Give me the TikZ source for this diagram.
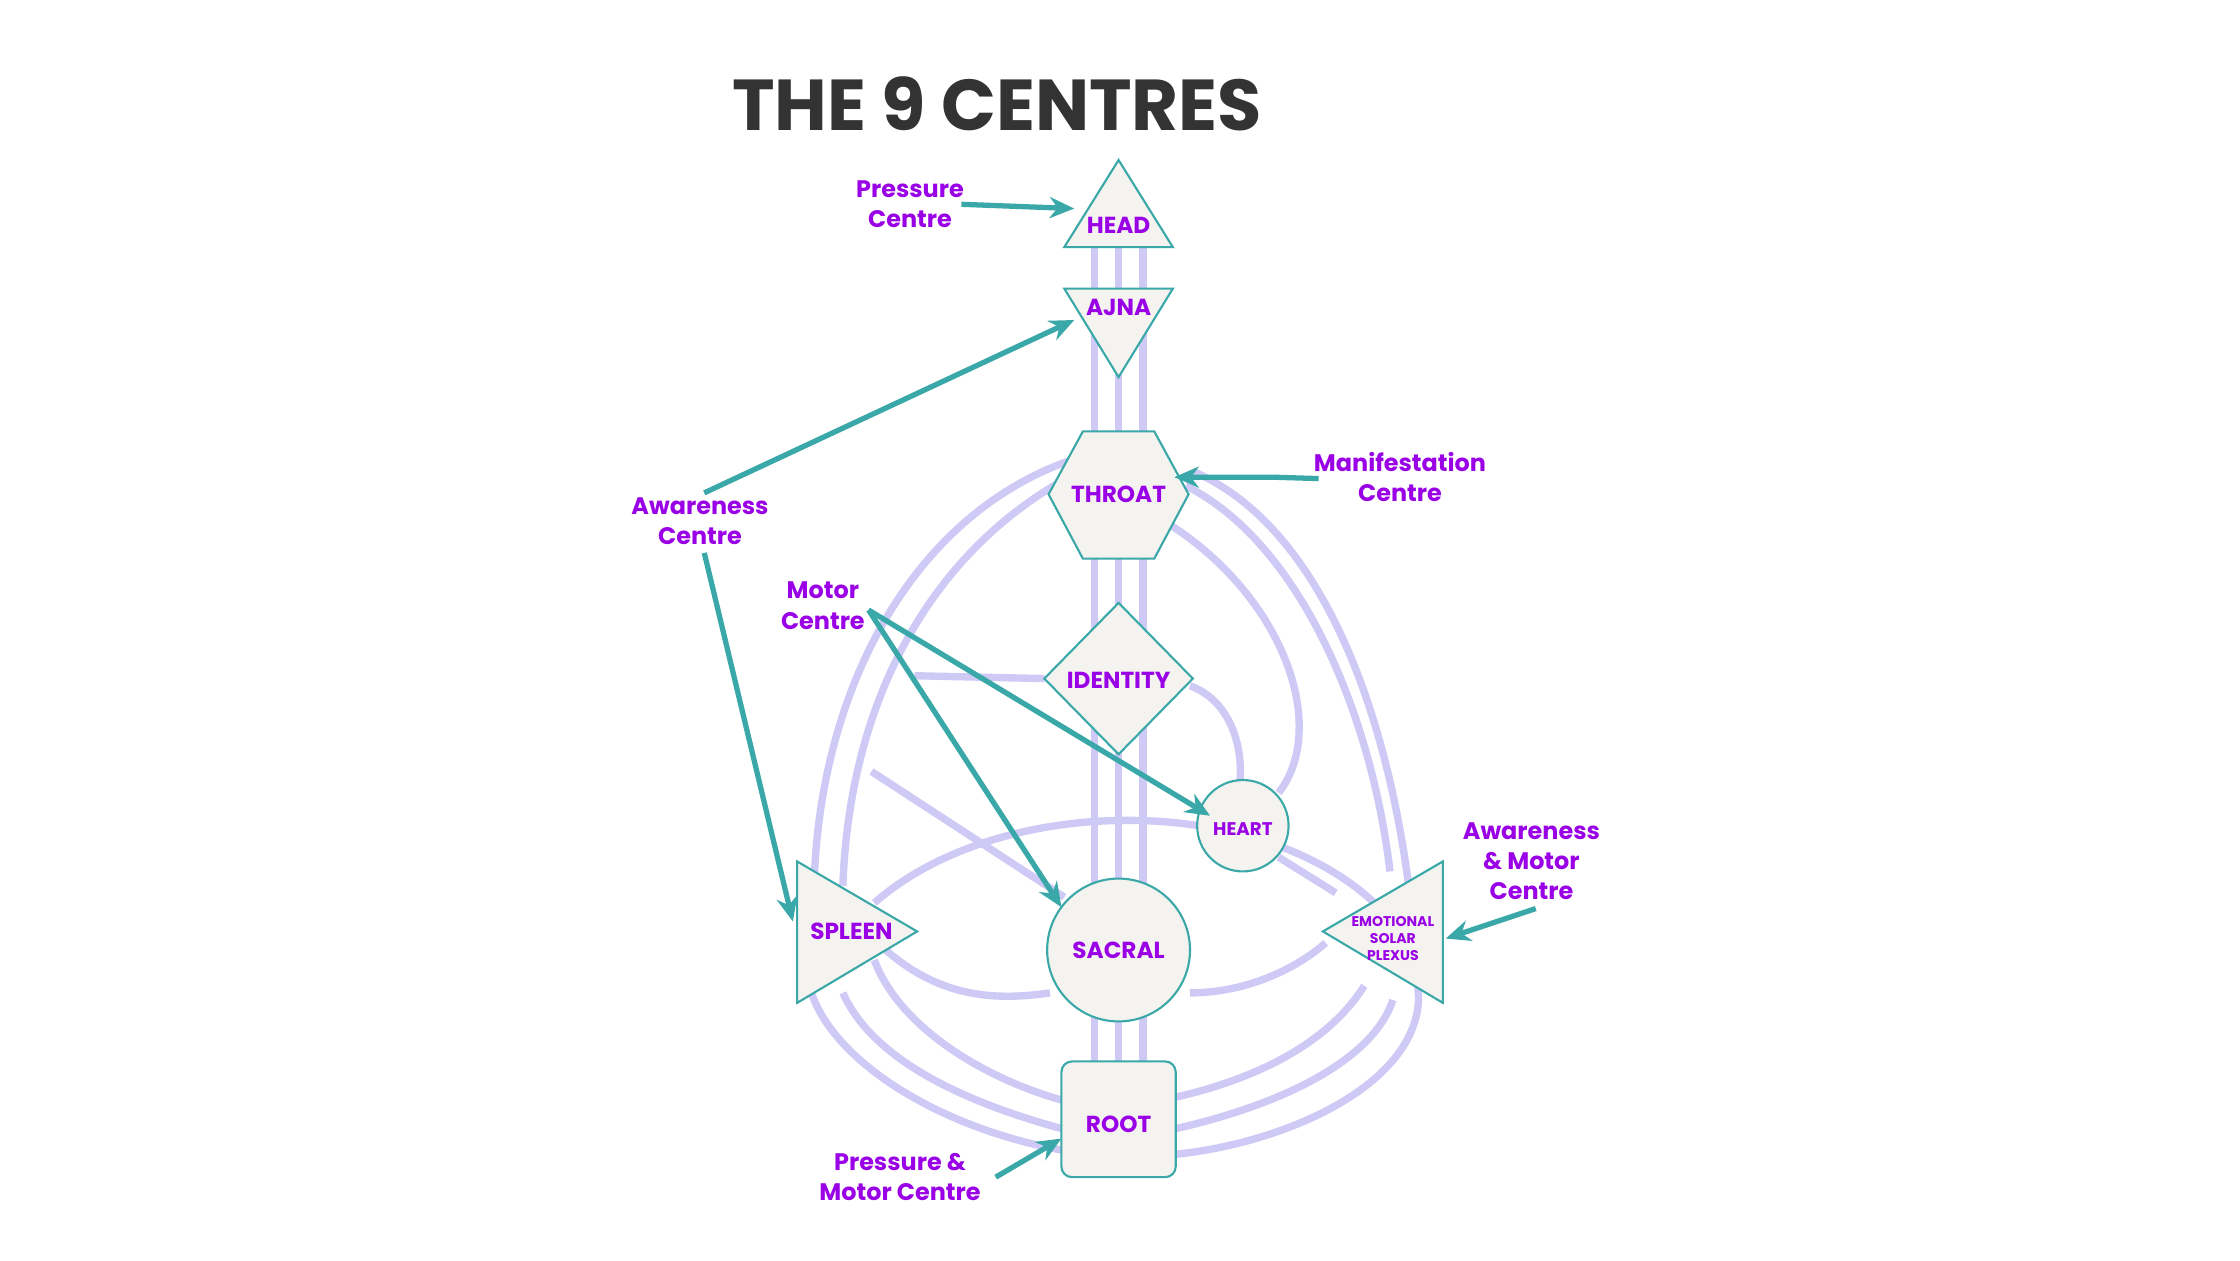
\documentclass[tikz,border=0pt]{standalone}
\usepackage{fontspec}
\setmainfont{Poppins}
\usetikzlibrary{arrows.meta}
\definecolor{teal1}{HTML}{3AA8A8}
\definecolor{lav}{HTML}{CFC9F6}
\definecolor{purp}{HTML}{9A00E6}
\definecolor{fillc}{HTML}{F4F3EF}
\definecolor{dark}{HTML}{333333}
\begin{document}
\begin{tikzpicture}[x=0.014286cm,y=-0.014286cm,
 ch/.style={draw=lav,line width=2.1pt},
 ctr/.style={draw=teal1,fill=fillc,line width=0.6pt},
 ar/.style={draw=teal1,line width=1.5pt,-{Stealth[length=7pt,width=6pt]}},
 lab/.style={text=purp,font=\fontsize{6.8}{8.6}\selectfont\bfseries,align=center},
 cl/.style={text=purp,font=\fontsize{6.6}{8}\selectfont\bfseries,align=center}]
\useasboundingbox (0,0) rectangle (1568,882);
\node[text=dark,font=\fontsize{20.5}{24}\selectfont\bfseries] (title) at (698,73) {THE 9 CENTRES};
% channels
\foreach \x in {766,783,800} \draw[ch] (\x,173) -- (\x,743);
\draw[ch] (750,322) .. controls (640,360) and (575,480) .. (570,615);
\draw[ch] (752,332) .. controls (660,380) and (595,480) .. (590,620);
\draw[ch] (568,695) .. controls (585,745) and (660,790) .. (743,805);
\draw[ch] (590,695) .. controls (610,740) and (670,770) .. (743,790);
\draw[ch] (612,672) .. controls (630,720) and (690,755) .. (743,770);
\draw[ch] (835,330) .. controls (930,370) and (985,520) .. (993,700) .. controls (990,760) and (900,800) .. (823,808);
\draw[ch] (830,340) .. controls (910,380) and (960,500) .. (973,610);
\draw[ch] (975,700) .. controls (960,745) and (890,775) .. (823,790);
\draw[ch] (955,690) .. controls (930,730) and (880,755) .. (823,768);
\draw[ch] (820,368) .. controls (900,420) and (930,510) .. (895,555);
\draw[ch] (612,632) .. controls (700,555) and (880,555) .. (962,632);
\draw[ch] (620,665) .. controls (660,700) and (700,700) .. (735,695);
\draw[ch] (833,695) .. controls (870,695) and (905,680) .. (928,660);
\draw[ch] (610,540) -- (745,628);
\draw[ch] (640,473) -- (731,475);
\draw[ch] (833,480) .. controls (860,490) and (870,520) .. (868,546);
\draw[ch] (895,600) -- (935,625);
% centres
\draw[ctr] (783,112) -- (821,173) -- (745,173) -- cycle;
\node[cl] (head) at (783,158) {HEAD};
\draw[ctr] (745,202) -- (821,202) -- (783,264) -- cycle;
\node[cl] (ajna) at (783,215) {AJNA};
\draw[ctr] (734,346) -- (758,302) -- (808,302) -- (832,346) -- (808,391) -- (758,391) -- cycle;
\node[cl] (throat) at (783,346) {THROAT};
\draw[ctr] (731,475) -- (783,422) -- (835,475) -- (783,528) -- cycle;
\node[cl] (identity) at (783,476) {IDENTITY};
\draw[ctr] (870,578) circle (32);
\node[cl,font=\fontsize{5.2}{6}\selectfont\bfseries] (heart) at (870,580) {HEART};
\draw[ctr] (558,603) -- (642,652) -- (558,702) -- cycle;
\node[cl] (spleen) at (596,652) {SPLEEN};
\draw[ctr] (783,665) circle (50);
\node[cl] (sacral) at (783,665) {SACRAL};
\draw[ctr] (1010,603) -- (926,652) -- (1010,702) -- cycle;
\node[cl,font=\fontsize{4}{4.9}\selectfont\bfseries] (sp) at (975,657) {EMOTIONAL\\SOLAR\\PLEXUS};
\draw[ctr,rounded corners=3pt] (743,743) rectangle (823,824);
\node[cl] (root) at (783,787) {ROOT};
% labels
\node[lab] (l1) at (637,143) {Pressure\\Centre};
\node[lab] (l2) at (490,365) {Awareness\\Centre};
\node[lab] (l3) at (980,334) {Manifestation\\Centre};
\node[lab] (l4) at (576,424) {Motor\\Centre};
\node[lab] (l5) at (1072,603) {Awareness\\\& Motor\\Centre};
\node[lab] (l6) at (630,824) {Pressure \&\\Motor Centre};
\coordinate (a1) at (752,146);
\coordinate (a2) at (752,224);
\coordinate (a3) at (555,645);
\coordinate (a4) at (822,334);
\coordinate (a5) at (847,571);
\coordinate (a6) at (743,635);
\coordinate (a7) at (1012,657);
\coordinate (a8) at (743,797);
\draw[ar] (673,143) -- (a1);
\draw[ar] (493,345) -- (a2);
\draw[ar] (493,387) -- (a3);
\draw[ar] (923,335) -- (890,334) -- (a4);
\draw[ar] (608,427) -- (a5);
\draw[ar] (608,427) -- (a6);
\draw[ar] (1075,636) -- (a7);
\draw[ar] (697,824) -- (a8);
\end{tikzpicture}
\end{document}
